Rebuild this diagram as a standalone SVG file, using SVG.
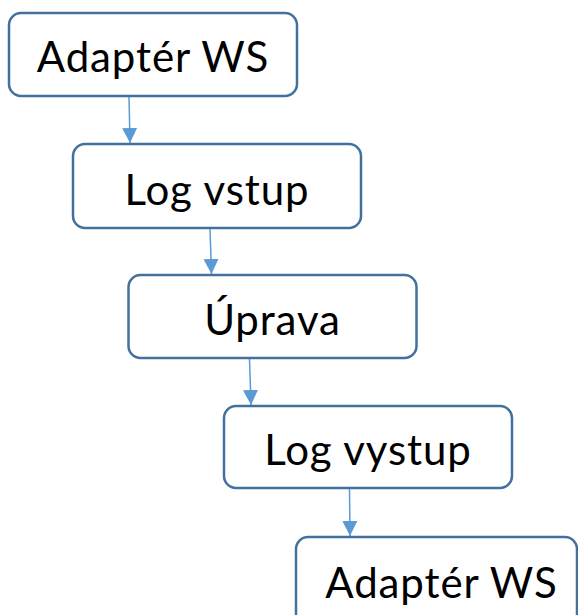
<svg xmlns="http://www.w3.org/2000/svg" width="578" height="615" viewBox="0 0 578 615">
<defs>
<style>
.box{fill:#fff;stroke:#41719C;stroke-width:2.5}
.lbl{font-family:Lato,"Open Sans","Liberation Sans",sans-serif;font-size:42px;fill:#000;text-anchor:middle;letter-spacing:0.9px}
.con{stroke:#5B9BD5;stroke-width:1.5;fill:none}
</style>
<marker id="ah" markerUnits="userSpaceOnUse" markerWidth="16" markerHeight="16" viewBox="0 0 16 16" refX="15" refY="8" orient="auto">
<path d="M0,0.5 L15,8 L0,15.5 Z" fill="#5B9BD5"/>
</marker>
</defs>
<rect width="578" height="615" fill="#fff"/>
<g id="connectors">
<line class="con" x1="129" y1="97" x2="130" y2="143" marker-end="url(#ah)"/>
<line class="con" x1="210" y1="229" x2="211.5" y2="274" marker-end="url(#ah)"/>
<line class="con" x1="249.5" y1="359" x2="251" y2="405" marker-end="url(#ah)"/>
<line class="con" x1="349.5" y1="489" x2="350" y2="536" marker-end="url(#ah)"/>
</g>
<g id="n1">
<rect class="box" x="9" y="13" width="288" height="83" rx="12"/>
<text class="lbl" x="153" y="72">Adaptér WS</text>
</g>
<g id="n2">
<rect class="box" x="73" y="144" width="288" height="84" rx="12"/>
<text class="lbl" x="217" y="205">Log vstup</text>
</g>
<g id="n3">
<rect class="box" x="128.5" y="275" width="288" height="83" rx="12"/>
<text class="lbl" x="272.5" y="335">Úprava</text>
</g>
<g id="n4">
<rect class="box" x="224" y="406" width="288" height="82" rx="12"/>
<text class="lbl" x="368" y="465">Log vystup</text>
</g>
<g id="n5">
<rect class="box" x="296" y="537" width="281" height="100" rx="12"/>
<text class="lbl" x="441.5" y="598">Adaptér WS</text>
</g>
</svg>
